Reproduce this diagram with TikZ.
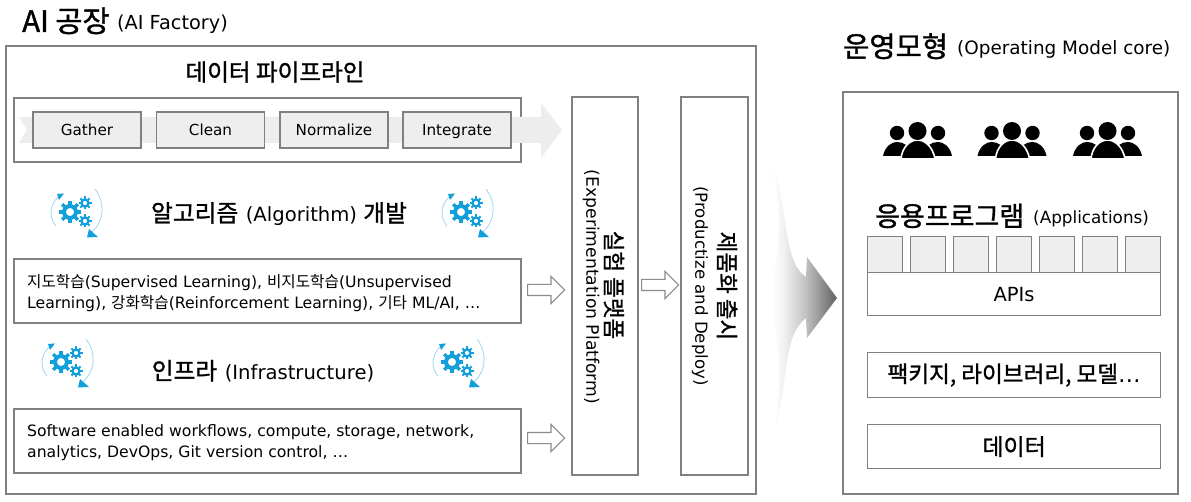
\documentclass[tikz,border=0pt]{standalone}
\usepackage{fontspec}
\setmainfont{DejaVu Sans}
\newfontfamily\kofont{Noto Sans CJK KR}
\newfontfamily\kobold[FakeBold=1.2]{Noto Sans CJK KR}
\newcommand{\ko}[1]{{\kofont #1}}
\newcommand{\kb}[1]{{\kobold #1}}
\usetikzlibrary{shapes.arrows}
\definecolor{edgegray}{HTML}{808080}
\definecolor{panelgray}{HTML}{EEEEEE}
\definecolor{pipegray}{HTML}{EDEDED}
\definecolor{iconblue}{HTML}{12A0DC}
\definecolor{arcblue}{HTML}{A9DAF1}
\pgfdeclarehorizontalshading{bigarrowshade}{100bp}{%
  color(0bp)=(white); color(25bp)=(white); color(32bp)=(white); color(40bp)=(black!6);
  color(54bp)=(black!24); color(64bp)=(black!42); color(75bp)=(black!62); color(100bp)=(black!62)}
\newcommand{\gearshape}[3]{%
  \begin{scope}[shift={(#1,#2)}]
    \foreach \a in {0,45,...,315}{\draw[iconblue,line width=#3*0.3pt] (\a:#3*0.6) -- (\a:#3);}
    \draw[iconblue,line width=#3*0.36pt] (0,0) circle (#3*0.54);
  \end{scope}}
\newcommand{\gearicon}[2]{%
  \begin{scope}[shift={(#1,#2)}]
    \draw[arcblue,line width=0.9pt] (-14,14) .. controls (-21,6) and (-21,-6) .. (-12,-15);
    \draw[arcblue,line width=0.9pt] (25,-23) .. controls (35,-10) and (35,8) .. (22,20);
    \fill[iconblue] (-13,-18) -- (-6,-18.5) -- (-11,-12) -- cycle;
    \fill[iconblue] (17,25.5) -- (28,25) -- (19,17) -- cycle;
    \gearshape{0}{0}{11}
    \gearshape{15}{-9}{6.5}
    \gearshape{15}{9}{6.5}
  \end{scope}}
\newcommand{\peoplegroup}[1]{%
  \begin{scope}[shift={(#1,0)}]
    \fill[black] (897,133) circle (7.2);
    \fill[black] (938,133) circle (7.2);
    \fill[black] (883,156) .. controls (885,146) and (892,142) .. (897,142) .. controls (904,142) and (910,146) .. (912,156) -- cycle;
    \fill[black] (952,156) .. controls (950,146) and (943,142) .. (938,142) .. controls (931,142) and (925,146) .. (923,156) -- cycle;
    \draw[white,line width=1.6pt,fill=black] (901,159) .. controls (902,147) and (910,140) .. (917.5,140) .. controls (925,140) and (933,147) .. (935,159) -- cycle;
    \fill[black] (917.5,131) circle (9);
  \end{scope}}
\tikzset{
  x=1pt,y=-1pt,
  panel/.style={draw=edgegray,line width=1.2pt,fill=white},
  cellbox/.style={draw=edgegray,line width=1.2pt,fill=panelgray},
  stagebox/.style={cellbox,minimum width=108pt,minimum height=36pt,inner sep=0pt,text height=13.5pt,text depth=1.5pt,font=\fontsize{15.2}{15}\selectfont},
  appbox/.style={cellbox,minimum width=35pt,minimum height=36pt,inner sep=0pt,anchor=north west},
  whitebox/.style={panel,minimum width=293pt,inner sep=0pt,anchor=north west},
  hollowarrow/.style={single arrow,draw=black!45,fill=white,line width=1.2pt,minimum width=26pt,minimum height=37pt,single arrow head extend=8pt,inner sep=5pt,anchor=tail},
  label/.style={inner sep=0pt,anchor=base west},
  bodytext/.style={inner sep=0pt,anchor=north west,align=left,font=\fontsize{15.65}{21}\selectfont},
  vtext/.style={inner sep=0pt,rotate=-90}
}
\begin{document}
\begin{tikzpicture}
\useasboundingbox (0,0) rectangle (1191,502);
% titles
\node[label] (t1) at (22,32) {\fontsize{29.5}{30}\selectfont \kb{AI 공장}};
\node[label] (t1b) at (117,30) {\fontsize{19.3}{19}\selectfont (AI Factory)};
\node[label] (t2) at (843,57) {\fontsize{28.5}{29}\selectfont \kb{운영모형}};
\node[label] (t2b) at (957,55) {\fontsize{18.4}{18}\selectfont (Operating Model core)};
% outer panels
\draw[panel] (6,46) rectangle (756,494);
\draw[panel] (843,92) rectangle (1178,494);
% pipeline
\node[inner sep=0pt] (pipetitle) at (275,72) {\fontsize{23.6}{24}\selectfont \kb{데이터 파이프라인}};
\draw[panel] (14,98) rectangle (521,162);
\fill[pipegray] (19,117) -- (541,117) -- (541,103) -- (562,130) -- (541,158) -- (541,143) -- (19,143) -- (27,130) -- cycle;
\node[stagebox] (gather) at (87,130) {Gather};
\node[stagebox] (clean) at (210.5,130) {Clean};
\node[stagebox] (normalize) at (334,130) {Normalize};
\node[stagebox] (integrate) at (457,130) {Integrate};
% algorithm
\gearicon{70}{212}
\gearicon{461}{212}
\node[inner sep=0pt] (algo) at (279,214) {\fontsize{23.7}{24}\selectfont \kb{알고리즘} \fontsize{19.6}{20}\selectfont (Algorithm) \fontsize{23.7}{24}\selectfont\kb{개발}};
\draw[panel] (14,259) rectangle (521,323);
\node[bodytext] (algotext) at (27,274) {\ko{지도학습}(Supervised Learning), \ko{비지도학습}(Unsupervised\\Learning), \ko{강화학습}(Reinforcement Learning), \ko{기타} ML/AI, …};
% infra
\gearicon{61}{362}
\gearicon{452}{362}
\node[inner sep=0pt] (infra) at (263,371) {\fontsize{23.7}{24}\selectfont \kb{인프라} \fontsize{19.6}{20}\selectfont (Infrastructure)};
\draw[panel] (14,409) rectangle (521,473);
\node[bodytext] (infratext) at (27,424) {Software enabled workflows, compute, storage, network,\\analytics, DevOps, Git version control, …};
% columns
\node[panel,minimum width=66pt,minimum height=378pt,inner sep=0pt] (exp) at (605,286) {};
\node[panel,minimum width=67pt,minimum height=378pt,inner sep=0pt] (prod) at (714.5,286) {};
\node[vtext] (expk) at (614,285) {\fontsize{22.5}{23}\selectfont \kb{실험 플랫폼}};
\node[vtext] (expe) at (591,287) {\fontsize{17.2}{17}\selectfont (Experimentation Platform)};
\node[vtext] (prodk) at (727,286) {\fontsize{22.5}{23}\selectfont \kb{제품화 출시}};
\node[vtext] (prode) at (700,286) {\fontsize{16.6}{17}\selectfont (Productize and Deploy)};
% hollow arrows
\node[hollowarrow] (a1) at (527,290) {};
\node[hollowarrow] (a2) at (641,285) {};
\node[hollowarrow] (a3) at (527,438) {};
% big arrow
\shade[shading=bigarrowshade]
  (772,163) .. controls (788,200) and (782,262) .. (806,277) -- (807,257) -- (837,298) -- (807,338) -- (806,318)
  .. controls (782,335) and (788,390) .. (775,427) .. controls (782,380) and (782,330) .. (762,298) .. controls (782,270) and (782,215) .. (772,163) -- cycle;
% right column
\peoplegroup{0}
\peoplegroup{94.5}
\peoplegroup{190}
\node[label] (apps) at (875,226) {\fontsize{27}{27}\selectfont \kb{응용프로그램}};
\node[label] (appse) at (1033,224) {\fontsize{16.8}{17}\selectfont (Applications)};
\node[appbox] (b1) at (867,236) {};
\node[appbox] (b2) at (910,236) {};
\node[appbox] (b3) at (953,236) {};
\node[appbox] (b4) at (995.5,236) {};
\node[appbox] (b5) at (1038.5,236) {};
\node[appbox] (b6) at (1081.5,236) {};
\node[appbox] (b7) at (1124.5,236) {};
\node[whitebox,minimum height=43pt] (apis) at (867,272) {\fontsize{19.5}{20}\selectfont APIs};
\node[whitebox,minimum height=45pt] (pkg) at (867,352) {\fontsize{22.6}{23}\selectfont \kb{팩키지, 라이브러리, 모델}…};
\node[whitebox,minimum height=44pt] (data) at (867,424) {\fontsize{23}{23}\selectfont \kb{데이터}};
\end{tikzpicture}
\end{document}
